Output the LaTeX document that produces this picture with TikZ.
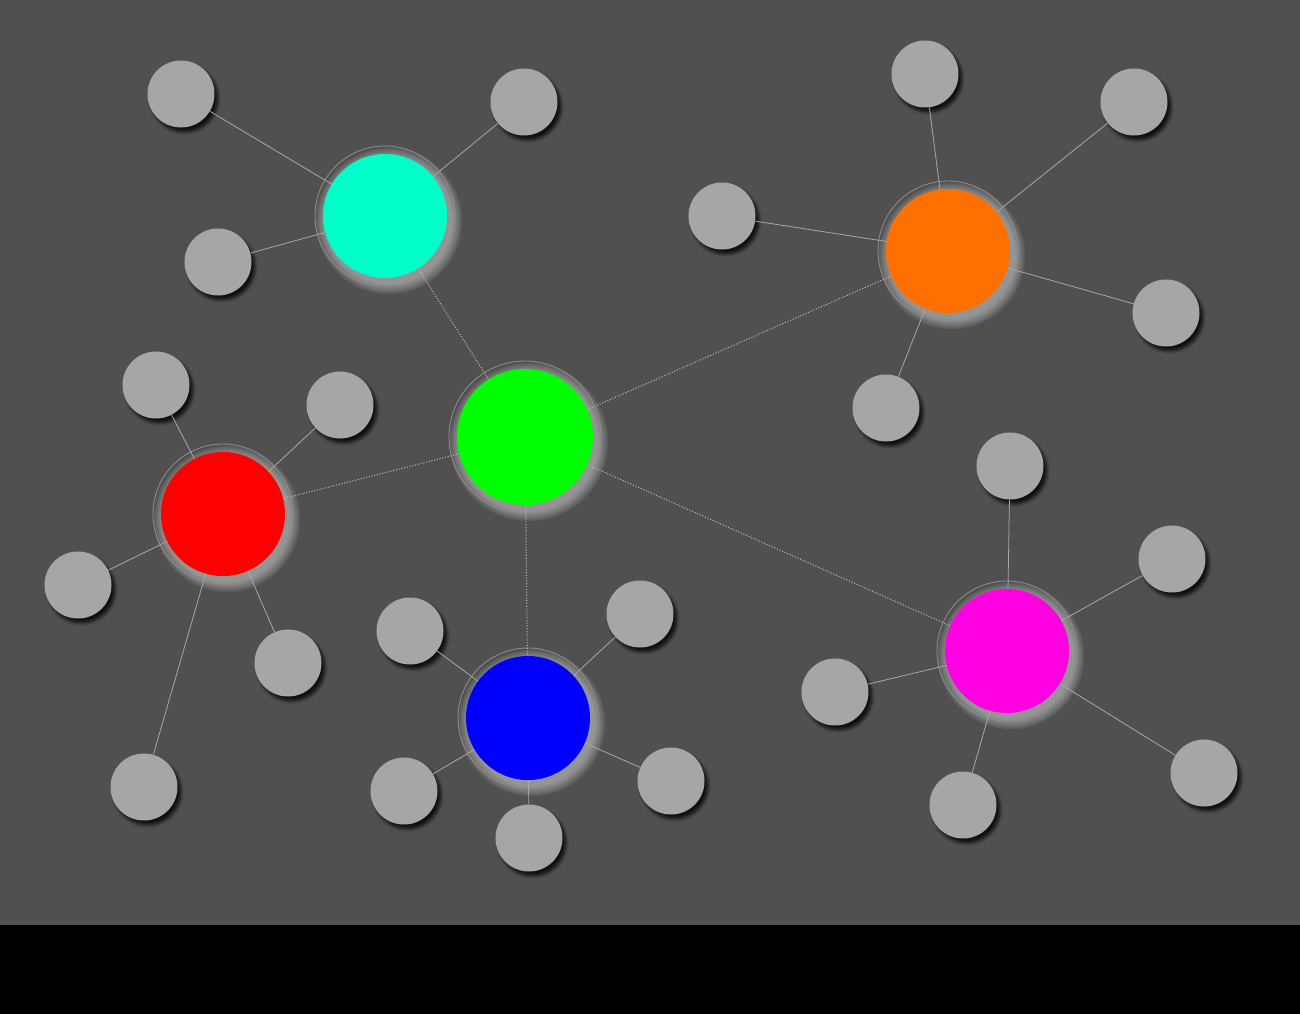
\documentclass[tikz,border=0pt]{standalone}
\usetikzlibrary{shadows.blur}
\definecolor{bg}{HTML}{505050}
\definecolor{sat}{HTML}{A6A6A6}
\definecolor{cyanh}{HTML}{00FFC8}
\definecolor{greenh}{HTML}{00FF00}
\definecolor{orangeh}{HTML}{FF7000}
\definecolor{redh}{HTML}{FF0000}
\definecolor{blueh}{HTML}{0000FF}
\definecolor{magh}{HTML}{FF00E0}
\definecolor{linec}{HTML}{A8A8A8}
\tikzset{
  satnode/.style={circle, fill=sat, minimum size=13.4mm, inner sep=0pt,
    blur shadow={shadow xshift=0.7mm, shadow yshift=-0.9mm, shadow opacity=80, shadow blur steps=6}},
  hubnode/.style={circle, minimum size=24.8mm, inner sep=0pt, fill=#1},
  bighub/.style={circle, minimum size=27.2mm, inner sep=0pt, fill=#1},
  sline/.style={draw=linec, line width=0.45pt},
  dline/.style={draw=linec!80!white, line width=0.6pt, densely dotted},
}
\newcommand{\hubglow}[3]{% x y r
  \foreach \k in {1,...,7}{
    \fill[white, opacity=0.07] (#1+4,#2+5) circle ({#3+1.6*\k});
  }
  \draw[gray!90!white, line width=0.5pt] (#1,#2) circle ({#3+8});
}
\begin{document}
\begin{tikzpicture}[x=0.2mm,y=-0.2mm]
\fill[bg] (0,0) rectangle (1300,925);
\fill[black] (0,925) rectangle (1300,1014);
\useasboundingbox (0,0) rectangle (1300,1014);

% hub glows
\hubglow{385}{216}{62}
\hubglow{525}{437}{68}
\hubglow{948}{251}{62}
\hubglow{223}{514}{62}
\hubglow{528}{718}{62}
\hubglow{1007}{651}{62}

% hub centres
\coordinate (cC) at (385,216);
\coordinate (cG) at (525,437);
\coordinate (cO) at (948,251);
\coordinate (cR) at (223,514);
\coordinate (cB) at (528,718);
\coordinate (cM) at (1007,651);

% satellites
\node[satnode] (c1) at (181,94) {};
\node[satnode] (c2) at (524,102) {};
\node[satnode] (c3) at (218,262) {};
\node[satnode] (o1) at (925,74) {};
\node[satnode] (o2) at (1134,102) {};
\node[satnode] (o3) at (722,216) {};
\node[satnode] (o4) at (1166,313) {};
\node[satnode] (o5) at (886,408) {};
\node[satnode] (r1) at (156,385) {};
\node[satnode] (r2) at (340,405) {};
\node[satnode] (r3) at (78,585) {};
\node[satnode] (r4) at (288,663) {};
\node[satnode] (r5) at (144,787) {};
\node[satnode] (b1) at (410,631) {};
\node[satnode] (b2) at (640,614) {};
\node[satnode] (b3) at (404,791) {};
\node[satnode] (b4) at (671,781) {};
\node[satnode] (b5) at (529,838) {};
\node[satnode] (m1) at (1010,466) {};
\node[satnode] (m2) at (1172,559) {};
\node[satnode] (m3) at (835,692) {};
\node[satnode] (m4) at (1204,773) {};
\node[satnode] (m5) at (963,805) {};

% connectors
\foreach \s in {c1,c2,c3} \draw[sline] (\s) -- (cC);
\foreach \s in {o1,o2,o3,o4,o5} \draw[sline] (\s) -- (cO);
\foreach \s in {r1,r2,r3,r4,r5} \draw[sline] (\s) -- (cR);
\foreach \s in {b1,b2,b3,b4,b5} \draw[sline] (\s) -- (cB);
\foreach \s in {m1,m2,m3,m4,m5} \draw[sline] (\s) -- (cM);
\foreach \h in {cC,cO,cR,cB,cM} \draw[dline] (cG) -- (\h);

% hubs
\node[hubnode=cyanh] (C) at (cC) {};
\node[bighub=greenh] (G) at (cG) {};
\node[hubnode=orangeh] (O) at (cO) {};
\node[hubnode=redh] (R) at (cR) {};
\node[hubnode=blueh] (B) at (cB) {};
\node[hubnode=magh] (M) at (cM) {};
\end{tikzpicture}
\end{document}
